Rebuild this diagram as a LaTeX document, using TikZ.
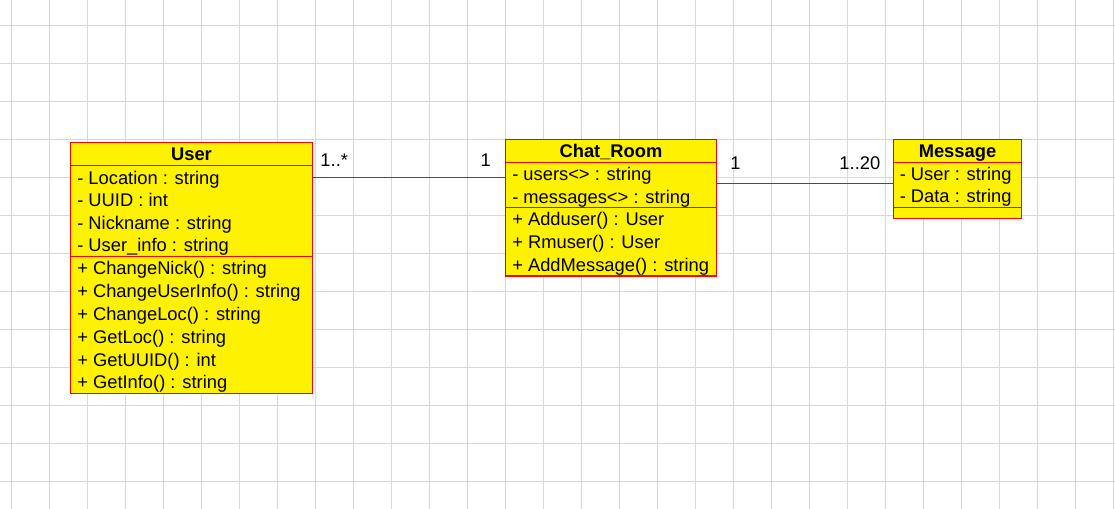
\documentclass[tikz,border=0pt]{standalone}
\usepackage{fontspec}
\setmainfont{Liberation Sans}
\usetikzlibrary{fit}

\definecolor{gridgray}{RGB}{216,216,216}
\definecolor{umlred}{RGB}{255,0,0}
\tikzset{
  gridline/.style={draw=gridgray, line width=1.1pt},
  classbox/.style={draw=umlred, fill=yellow, line width=0.9pt, inner sep=0pt},
  sepline/.style={draw=umlred, line width=0.9pt},
  assoc/.style={draw=umlred, line width=1.1pt},
  title/.style={font=\bfseries\fontsize{13.75}{16}\selectfont, inner sep=0pt, anchor=base},
  member/.style={font=\fontsize{13.75}{16}\selectfont, inner sep=0pt, anchor=base west},
  mult/.style={font=\fontsize{13.75}{16}\selectfont, inner sep=0pt}
}

\begin{document}
\begin{tikzpicture}[x=0.75pt, y=-0.75pt]
    % Background and grid
    \fill[white] (0,0) rectangle (1115,509);
    \useasboundingbox (0,0) rectangle (1115,509);
    \foreach \k in {0,...,29}
      \draw[gridline] ({11.7+38*\k},0) -- ({11.7+38*\k},509);
    \foreach \k in {0,...,12}
      \draw[gridline] (0,{25.3+38*\k}) -- (1115,{25.3+38*\k});

    % Draw the class boxes
    \node[classbox, fit={(70.5,142.5) (312.5,393.5)}] (user) {};
    \node[classbox, fit={(505.5,139.5) (716.5,276)}] (room) {};
    \node[classbox, fit={(893.5,139.5) (1021.5,218.5)}] (msg) {};

    % Compartment lines
    \coordinate (user-s1) at (70.5,165.7);
    \coordinate (user-s2) at (70.5,256.7);
    \coordinate (room-s1) at (505.5,162.7);
    \coordinate (room-s2) at (505.5,207.7);
    \coordinate (msg-s1) at (893.5,162.5);
    \coordinate (msg-s2) at (893.5,207.7);
    \draw[sepline] (user-s1) -- (user-s1 -| user.east);
    \draw[sepline] (user-s2) -- (user-s2 -| user.east);
    \draw[sepline] (room-s1) -- (room-s1 -| room.east);
    \draw[sepline] (room-s2) -- (room-s2 -| room.east);
    \draw[sepline] (msg-s1) -- (msg-s1 -| msg.east);
    \draw[sepline] (msg-s2) -- (msg-s2 -| msg.east);

    % Class names
    \node[title] (user-name) at (191.5,161) {User};
    \node[title] (room-name) at (611,158) {Chat\_Room};
    \node[title] (msg-name) at (957.5,157.8) {Message};

    % User members
    \foreach \txt [count=\i] in {- Location : string, - UUID : int, - Nickname : string, - User\_info : string}
      \node[member] (user-a\i) at (77,{184.2+22.5*(\i-1)}) {\txt};
    \foreach \txt [count=\i] in {+ ChangeNick() : string, + ChangeUserInfo() : string, + ChangeLoc() : string, + GetLoc() : string, + GetUUID() : int, + GetInfo() : string}
      \node[member] (user-m\i) at (77,{275+22.8*(\i-1)}) {\txt};

    % Chat_Room members
    \foreach \txt [count=\i] in {- users<> : string, - messages<> : string}
      \node[member] (room-a\i) at (512,{180.8+22.6*(\i-1)}) {\txt};
    \foreach \txt [count=\i] in {+ Adduser() : User, + Rmuser() : User, + AddMessage() : string}
      \node[member] (room-m\i) at (512,{225.8+22.7*(\i-1)}) {\txt};

    % Message members
    \foreach \txt [count=\i] in {- User : string, - Data : string}
      \node[member] (msg-a\i) at (899.5,{180.8+22.2*(\i-1)}) {\txt};

    % Associations
    \draw[assoc] (user.east |- 0,177.3) -- (room.west |- 0,177.3);
    \draw[assoc] (room.east |- 0,183.3) -- (msg.west |- 0,183.3);

    % Multiplicities
    \node[mult, anchor=base west] (user-mult) at (320.2,166.7) {1..*};
    \node[mult, anchor=base east] (room-mult-l) at (491,166.7) {1};
    \node[mult, anchor=base west] (room-mult-r) at (730,170) {1};
    \node[mult, anchor=base east] (msg-mult) at (880.5,170) {1..20};
\end{tikzpicture}
\end{document}
